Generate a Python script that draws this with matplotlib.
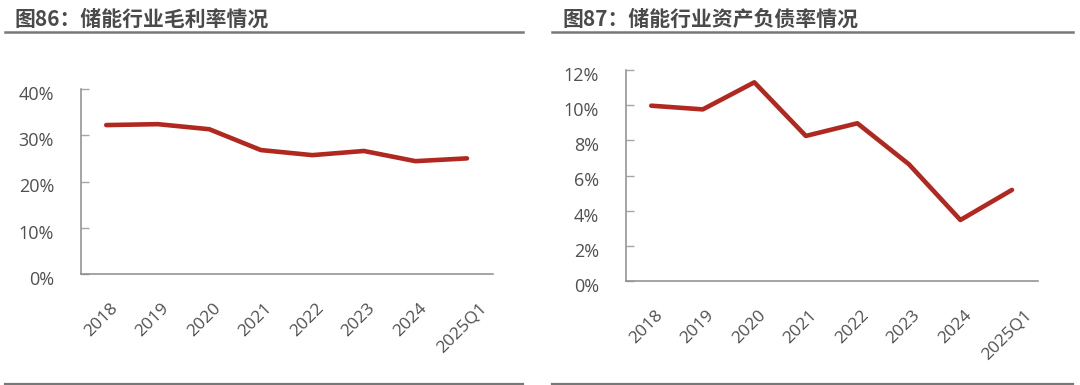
import matplotlib
matplotlib.use("Agg")
import matplotlib.pyplot as plt
import matplotlib.transforms as mtransforms
from matplotlib.lines import Line2D
from matplotlib.ticker import FuncFormatter

categories = ["2018", "2019", "2020", "2021", "2022", "2023", "2024", "2025Q1"]
gross_margin = [32.2, 32.4, 31.3, 26.8, 25.7, 26.6, 24.4, 25.0]
debt_ratio = [9.97, 9.76, 11.3, 8.25, 8.97, 6.64, 3.47, 5.18]
title_left = "图86：储能行业毛利率情况"
title_right = "图87：储能行业资产负债率情况"
yticks_left = [0, 10, 20, 30, 40]
yticks_right = [0, 2, 4, 6, 8, 10, 12]

W, H = 1080, 385
fig = plt.figure(figsize=(W / 100, H / 100), dpi=100)

LINE_C = "#B0281F"
TXT_C = "#505050"
SPINE_C = "#8C8C8C"


def px_axes(x0, x1, ytop, ybot):
    return fig.add_axes([x0 / W, 1 - ybot / H, (x1 - x0) / W, (ybot - ytop) / H])


def style(ax, vals, yticks, ymax):
    x = list(range(len(categories)))
    ax.plot(x, vals, color=LINE_C, lw=3.3, solid_capstyle="round", solid_joinstyle="round")
    ax.set_xlim(-0.5, len(categories) - 0.5)
    ax.set_ylim(0, ymax)
    ax.set_yticks(yticks)
    ax.yaxis.set_major_formatter(FuncFormatter(lambda v, p: f"{v:.0f}%"))
    ax.set_xticks(x)
    ax.set_xticklabels(categories)
    for s in ["top", "right"]:
        ax.spines[s].set_visible(False)
    for s in ["left", "bottom"]:
        ax.spines[s].set_color(SPINE_C)
        ax.spines[s].set_linewidth(1.1)
    ax.tick_params(axis="y", direction="in", length=6, width=1, color="#A6A6A6",
                   labelsize=13, labelcolor=TXT_C, pad=19)
    ax.tick_params(axis="x", length=0, labelsize=12.5, labelcolor=TXT_C, pad=19)
    for lab in ax.get_yticklabels():
        lab.set_fontfamily("Open Sans")
        lab.set_transform(lab.get_transform() + mtransforms.ScaledTranslation(0, -4 / 100, fig.dpi_scale_trans))
    for lab in ax.get_xticklabels():
        lab.set_fontfamily("Open Sans")
        lab.set_rotation(45)
        lab.set_ha("center")
        lab.set_va("top")
        lab.set_transform(lab.get_transform() + mtransforms.ScaledTranslation(-5 / 100, 0, fig.dpi_scale_trans))


ax1 = px_axes(80.5, 492.7, 89, 274)
style(ax1, gross_margin, yticks_left, 40)
ax2 = px_axes(625.5, 1037.7, 70, 281)
style(ax2, debt_ratio, yticks_right, 12)

# titles
fig.text(15 / W, 1 - 19 / H, title_left, fontsize=15, fontweight="bold", color="#4A4A4A",
         family=["Noto Sans CJK SC", "DejaVu Sans"], va="center", ha="left")
fig.text(562 / W, 1 - 19 / H, title_right, fontsize=15, fontweight="bold", color="#4A4A4A",
         family=["Noto Sans CJK SC", "DejaVu Sans"], va="center", ha="left")

# rules
for (xa, xb) in [(5, 523), (552, 1073)]:
    for yy, lw in ((32, 1.8), (383.5, 1.6)):
        fig.add_artist(Line2D([xa / W, xb / W], [1 - yy / H, 1 - yy / H], color="#787878", lw=lw,
                              transform=fig.transFigure))

fig.savefig("out.png", dpi=100)
